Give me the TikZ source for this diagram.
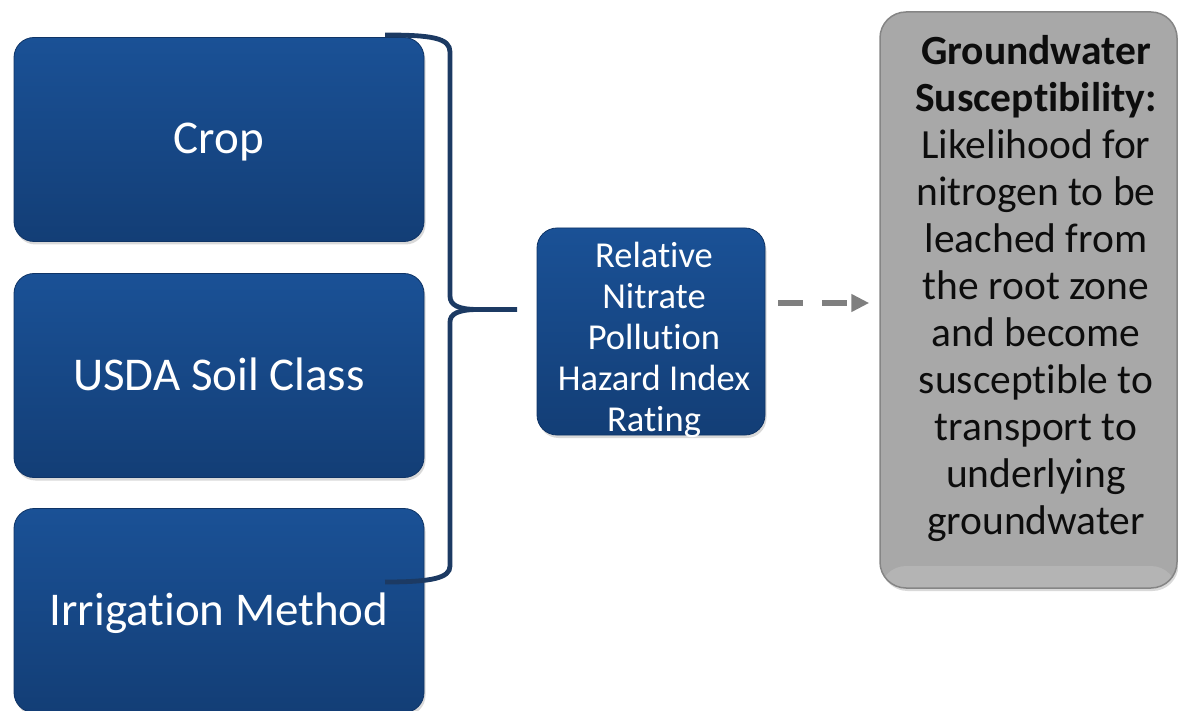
\documentclass[tikz,border=0pt]{standalone}
\usepackage{fontspec}
\setmainfont{Carlito}[Ligatures={NoCommon,NoContextual}, Contextuals=NoAlternate]
\usetikzlibrary{arrows.meta,shadows}
\definecolor{boxtop}{HTML}{1A5196}
\definecolor{boxbot}{HTML}{133E76}
\definecolor{boxedge}{HTML}{0F3466}
\definecolor{braceblue}{HTML}{1C3A63}
\definecolor{gwfill}{HTML}{A8A8A8}
\definecolor{gwlight}{HTML}{B4B4B4}
\definecolor{gwedge}{HTML}{858585}
\definecolor{arrowgray}{HTML}{7F7F7F}
\definecolor{gwtextcol}{HTML}{0D0D0D}
\tikzset{
  bluebox/.style={rectangle, rounded corners=20pt, top color=boxtop, bottom color=boxbot,
    draw=boxedge, line width=0.8pt, text=white, inner sep=0pt,
    drop shadow={opacity=0.3, shadow xshift=1.5pt, shadow yshift=-3pt}},
  bigbox/.style={bluebox, minimum width=410pt, minimum height=204pt,
    font=\fontsize{47}{56}\selectfont, text height=33pt, text depth=4pt},
  graybox/.style={rectangle, rounded corners=26pt, fill=gwfill, draw=gwedge, line width=1.5pt,
    inner sep=0pt, drop shadow={opacity=0.3, shadow xshift=1.5pt, shadow yshift=-3pt},
    path picture={\fill[gwlight] ([yshift=22pt]path picture bounding box.south west) rectangle (path picture bounding box.south east);}},
  brace/.style={draw=braceblue, line width=4.8pt},
  flow/.style={draw=arrowgray, line width=5.5pt, dash pattern=on 25pt off 19pt,
    -{Triangle[length=18pt,width=17pt]}}
}
\begin{document}
\begin{tikzpicture}[x=1pt,y=-1pt]
\useasboundingbox (0,0) rectangle (1178,711);
% left boxes
\node[bigbox] (crop) at (219,139.5) {Crop};
\node[bigbox] (soil) at (219,375.5) {USDA Soil Class};
\node[bigbox] (irr)  at (219,610.5) {Irrigation Method};
% middle box
\node[bluebox, minimum width=228pt, minimum height=207pt, rounded corners=20pt] (mid) at (651,331.5) {};
\node[text=white, align=center, font=\fontsize{36.5}{41}\selectfont, inner sep=0pt] (midtext) at (654,340)
  {Relative\\Nitrate\\Pollution\\Hazard Index\\Rating};
% right box
\node[graybox, minimum width=297pt, minimum height=576pt] (gw) at (1028.5,300) {};
\node[text=gwtextcol, align=center, font=\fontsize{41.5}{47}\selectfont, inner sep=0pt] (gwtext) at (1036,289)
  {\textbf{Groundwater}\\\textbf{Susceptibility:}\\Likelihood for\\nitrogen to be\\leached from\\the root zone\\and become\\susceptible to\\transport to\\underlying\\groundwater};
% brace
\coordinate (bt) at (385,35);
\coordinate (bb) at (385,582);
\coordinate (tip) at (517,309.5);
\draw[brace] (bt) .. controls (432,35) and (450,38) .. (450,52) -- (450,296)
  .. controls (450,305) and (458,309.5) .. (478,309.5) -- (tip);
\draw[brace] (478,309.5) .. controls (458,309.5) and (450,314) .. (450,322) -- (450,566)
  .. controls (450,578) and (432,582) .. (bb);
% dashed arrow
\coordinate (a1) at ([xshift=13pt,yshift=28.5pt]mid.east);
\coordinate (gwl) at ([xshift=-10pt]gw.west);
\coordinate (a2) at (gwl |- a1);
\draw[flow] (a1) -- (a2);
\end{tikzpicture}
\end{document}
